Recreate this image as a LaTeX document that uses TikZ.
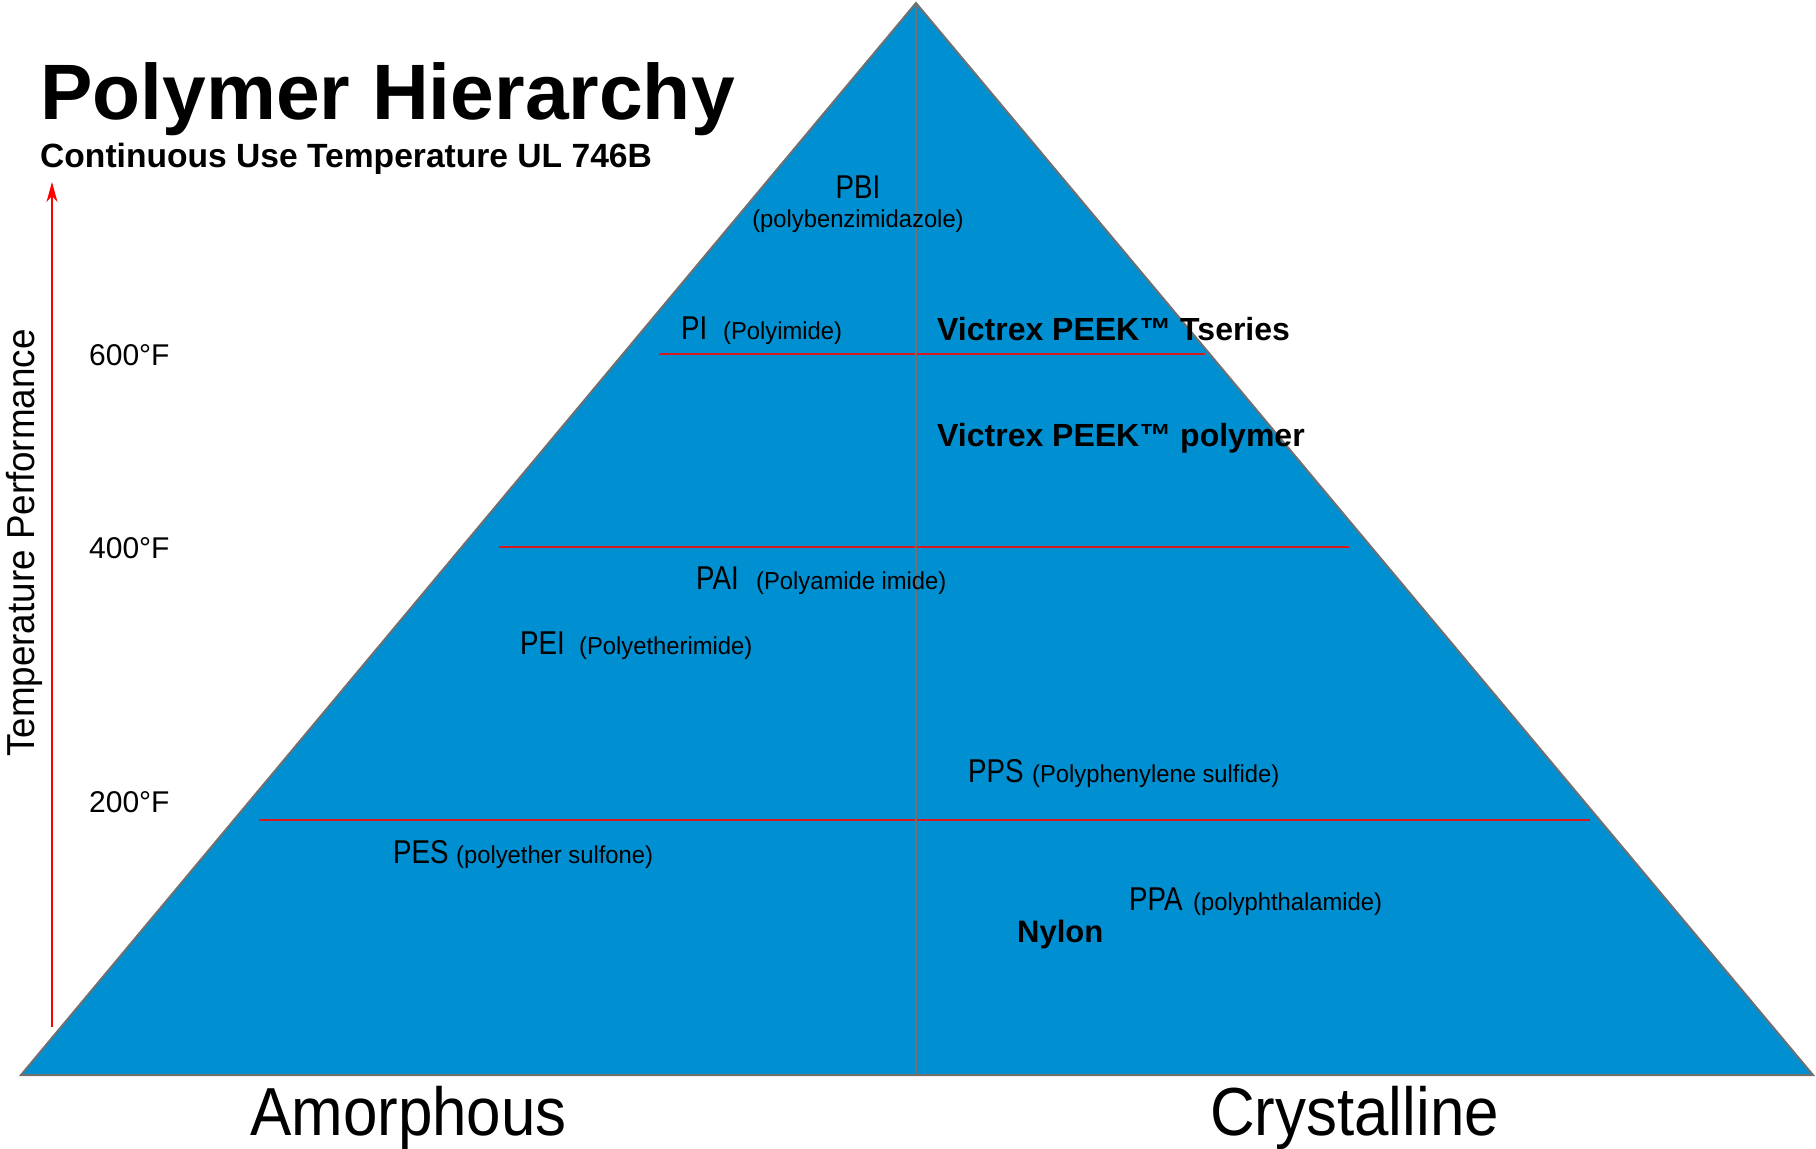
\documentclass[tikz,border=0pt]{standalone}
\usepackage{fontspec}
\setmainfont{Liberation Sans}
\newfontfamily\acrofont[FakeStretch=0.84]{Liberation Sans}
\newfontfamily\namefont[FakeStretch=0.97]{Liberation Sans}
\newfontfamily\axisfont[FakeStretch=0.91]{Liberation Sans}
\newfontfamily\perffont[FakeStretch=0.944]{Liberation Sans}
\usetikzlibrary{arrows.meta}
\definecolor{pyrblue}{RGB}{0,143,208}
\definecolor{edgegray}{RGB}{112,112,112}
\definecolor{levelred}{RGB}{215,25,32}
\begin{document}
\begin{tikzpicture}[x=1pt,y=-1pt,
  lbl/.style={anchor=base west, inner sep=0pt},
  titletext/.style={lbl, font=\bfseries\fontsize{78.6}{90}\selectfont},
  subtitletext/.style={lbl, font=\bfseries\fontsize{33.6}{40}\selectfont},
  temptext/.style={lbl, font=\fontsize{30}{36}\selectfont},
  acro/.style={lbl, font=\acrofont\fontsize{33}{38}\selectfont},
  fullname/.style={lbl, font=\namefont\fontsize{24.5}{29}\selectfont},
  boldname/.style={lbl, font=\bfseries\fontsize{32}{38}\selectfont},
  axistext/.style={lbl, font=\axisfont\fontsize{68}{78}\selectfont},
  levelline/.style={draw=levelred, line width=2pt},
  midline/.style={draw=edgegray, line width=1.5pt}
]
\useasboundingbox (0,0) rectangle (1816,1149);
% pyramid
\coordinate (apex) at (916,3);
\coordinate (bl) at (21,1075);
\coordinate (br) at (1813,1075);
\coordinate (basemid) at (916,1075);
\filldraw[fill=pyrblue, draw=edgegray, line width=2pt, line join=miter] (apex) -- (bl) -- (br) -- cycle;
% level lines
\coordinate (l6a) at (659,354);  \coordinate (l6b) at (1205,354);
\coordinate (l4a) at (499,547);  \coordinate (l4b) at (1349,547);
\coordinate (l2a) at (259,820);  \coordinate (l2b) at (1590,820);
\draw[levelline] (l6a) -- (l6b);
\draw[levelline] (l4a) -- (l4b);
\draw[levelline] (l2a) -- (l2b);
\draw[midline] (apex) -- (basemid);
% temperature arrow
\coordinate (arrbot) at (52,1027);
\coordinate (arrtop) at (52,182);
\draw[red, line width=1.6pt, -{Stealth[length=20pt,width=11pt,inset=6pt]}] (arrbot) -- (arrtop);
\node[anchor=center, inner sep=0pt, rotate=90, font=\perffont\fontsize{39}{45}\selectfont] (tperf) at (24,543) {Temperature Performance};
% titles
\node[titletext] (title) at (40,119) {Polymer Hierarchy};
\node[subtitletext] (subtitle) at (40,167) {Continuous Use Temperature UL 746B};
% temperatures
\node[temptext] (t600) at (89,365) {600°F};
\node[temptext] (t400) at (89,558) {400°F};
\node[temptext] (t200) at (89,812) {200°F};
% polymers
\node[acro, anchor=base] (pbi) at (858,198) {PBI};
\node[fullname, anchor=base] (pbifull) at (858,227) {(polybenzimidazole)};
\node[acro] (pi) at (681,339) {PI};
\node[fullname] (pifull) at (723,339) {(Polyimide)};
\node[boldname] (peekt) at (937,340) {Victrex PEEK™ Tseries};
\node[boldname] (peek) at (937,446) {Victrex PEEK™ polymer};
\node[acro] (pai) at (696,589) {PAI};
\node[fullname] (paifull) at (756,589) {(Polyamide imide)};
\node[acro] (pei) at (520,654) {PEI};
\node[fullname] (peifull) at (579,654) {(Polyetherimide)};
\node[acro] (pps) at (968,782) {PPS};
\node[fullname] (ppsfull) at (1032,782) {(Polyphenylene sulfide)};
\node[acro] (pes) at (393,863) {PES};
\node[fullname] (pesfull) at (456,863) {(polyether sulfone)};
\node[acro] (ppa) at (1129,910) {PPA};
\node[fullname] (ppafull) at (1193,910) {(polyphthalamide)};
\node[boldname, font=\bfseries\fontsize{31}{37}\selectfont] (nylon) at (1017,942) {Nylon};
% axis labels
\node[axistext] (amorph) at (250,1135) {Amorphous};
\node[axistext] (cryst) at (1210,1135) {Crystalline};
\end{tikzpicture}
\end{document}
